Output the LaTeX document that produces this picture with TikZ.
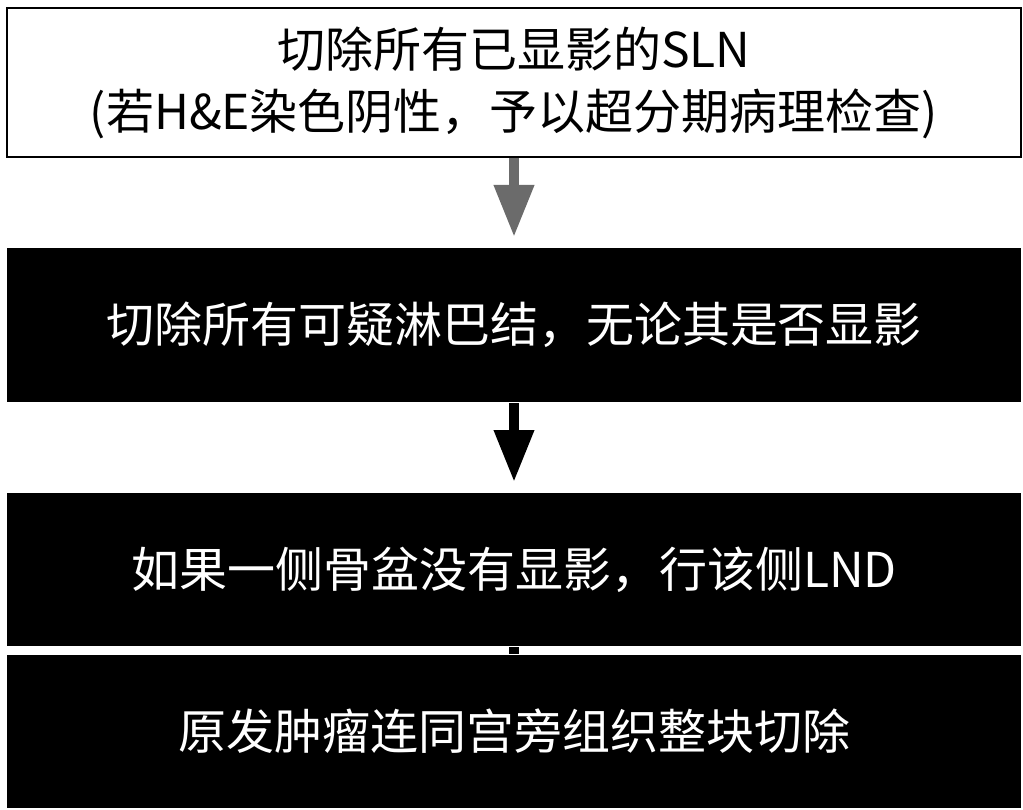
\documentclass[tikz,border=0pt]{standalone}
\usepackage{fontspec}
\setmainfont{Noto Sans CJK SC}
\usepackage{xcolor}
\usetikzlibrary{arrows.meta,positioning}
\definecolor{ink}{HTML}{000000}
\definecolor{shaftgrey}{HTML}{6B6B6B}

\begin{document}
\begin{tikzpicture}[
  x=1pt, y=1pt,
  font=\fontsize{48pt}{62pt}\selectfont,
  box/.style={draw=ink, line width=2pt, fill=white, minimum width=1014pt,
              align=center, inner sep=0pt},
  darkbox/.style={box, draw=none, fill=ink, text=white},
  arr/.style={-{Triangle[length=52pt, width=38pt]}, line width=10pt, draw=ink,
              shorten >=10pt},
  stub/.style={line width=10pt, draw=ink}
]
\useasboundingbox (0,0) rectangle (1023,-810);

\node[box, minimum height=149pt] (sln) at (514,-82.5)
  {切除所有已显影的SLN\\(若H\&E染色阴性，予以超分期病理检查)};
\node[darkbox, minimum height=154pt] (susp) at (514,-325)
  {切除所有可疑淋巴结，无论其是否显影};
\node[darkbox, minimum height=153pt] (lnd) at (514,-569.5)
  {如果一侧骨盆没有显影，行该侧LND};
\node[darkbox, minimum height=153pt] (prim) at (514,-731.5)
  {原发肿瘤连同宫旁组织整块切除};

\draw[arr, draw=shaftgrey] (sln.south) -- (susp.north);
\draw[arr] (susp.south) -- (lnd.north);
\draw[stub] (lnd.south) -- (prim.north);

\end{tikzpicture}
\end{document}
